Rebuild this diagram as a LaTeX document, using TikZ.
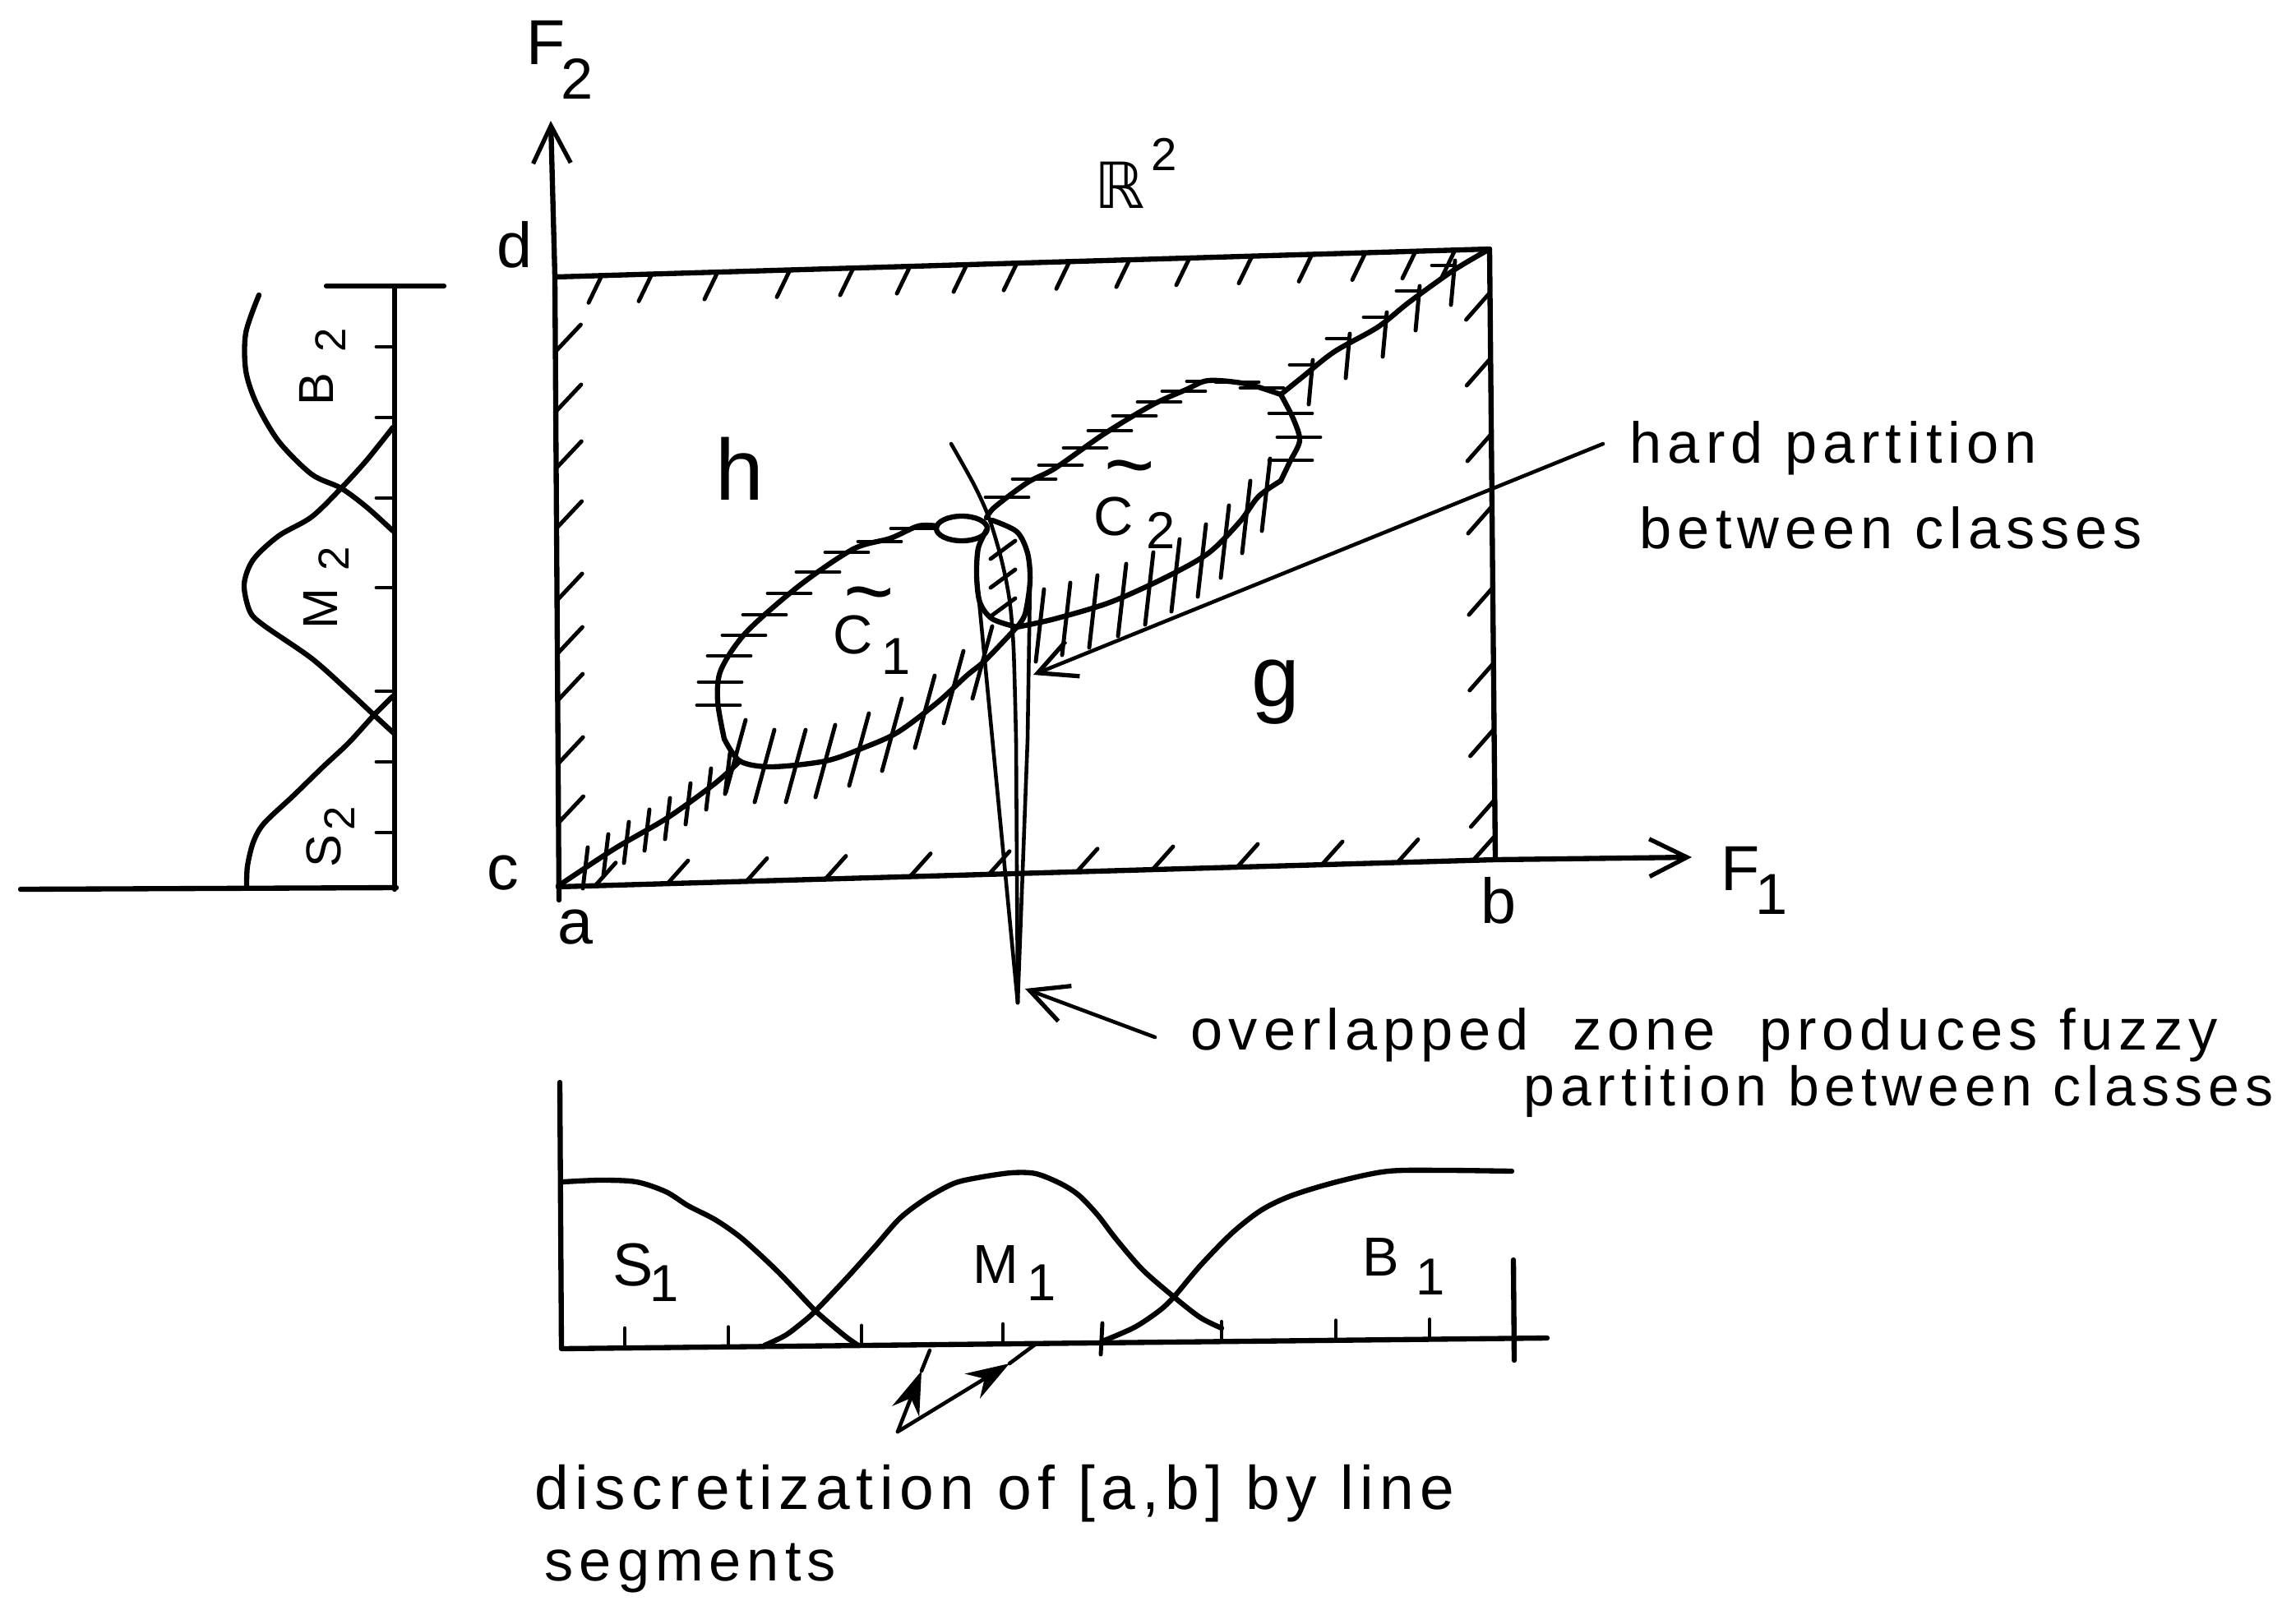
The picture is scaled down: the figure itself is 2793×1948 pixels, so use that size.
\documentclass[tikz,border=0pt]{standalone}
\usepackage{fontspec}
\setmainfont{Liberation Sans}
\newfontfamily\lettering{Liberation Sans}[LetterSpace=10]
\newfontfamily\dejavu{DejaVu Sans}
\usetikzlibrary{arrows.meta}
\newcommand\mytildeC[1]{\makebox[0pt][l]{\hspace{3.5pt}\raisebox{#1}{\fontsize{30}{30}\selectfont\char"007E}}C}
\begin{document}
\begin{tikzpicture}[x=0.01cm,y=-0.01cm,
  ln/.style={line width=1.8pt,line cap=round,line join=round},
  hat/.style={line width=1.4pt,line cap=round},
  thin/.style={line width=1.3pt,line cap=round,line join=round},
  txt/.style={font=\lettering\fontsize{20}{24}\selectfont,anchor=base west,inner sep=0pt},
  lab/.style={font=\fontsize{#1}{#1}\selectfont,inner sep=0pt},
  barb/.style={-{Straight Barb[length=13pt,width=13pt,line width=1.5pt]}},
  filltip/.style={-{Stealth[length=15pt,width=10pt]}}
]
\useasboundingbox (0,0) rectangle (2793,1948);

% ---------- main frame and axes ----------
\coordinate (A) at (679,1079);
\coordinate (Abot) at (680,1095);
\coordinate (D) at (675,337);
\coordinate (TR) at (1812,303);
\coordinate (B) at (1819,1046);
\coordinate (F2tip) at (670,147);
\coordinate (F1tip) at (2058,1043);

\draw[ln,barb] (Abot) -- (D) -- (F2tip);
\draw[ln] (D) -- (TR) -- (B);
\draw[ln,barb] (A) -- (B) -- (F1tip);

% edge hatches
\foreach \xx in {732,793,873,961,1038,1107,1176,1237,1301,1374,1447,1523,1596,1661,1722,1770}{
  \pgfmathsetmacro\yy{337-(\xx-675)/1137*34}
  \draw[hat] (\xx,\yy) -- ++(-16,33);
}
\foreach \yy in {428,501,570,643,731,796,853,930,1002}{
  \pgfmathsetmacro\xx{675+(\yy-337)/742*4}
  \draw[hat] (\xx,\yy) -- ++(31,-33);
}
\foreach \yy in {356,436,528,616,715,807,887,973}{
  \pgfmathsetmacro\xx{1812+(\yy-303)/743*7}
  \draw[hat] (\xx,\yy) -- ++(-29,33);
}
\foreach \xx in {724,812,908,1004,1107,1203,1310,1402,1505,1608,1700,1792}{
  \pgfmathsetmacro\yy{1079-(\xx-679)/1140*33}
  \draw[hat] (\xx,\yy) -- ++(25,-28);
}

% ---------- class regions and hard boundary ----------
% lower diagonal from a to C1
\draw[ln] plot[smooth] coordinates {(679,1078) (747,1033) (812,995) (870,953) (900,926)};
\foreach \px/\py in {712/1055,737/1039,762/1024,787/1009,812/995,837/977,862/959,885/940}
  \draw[hat] (\px,\py) ++(3,-24) -- ++(-6,50);
% C1 upper arc
\draw[ln] plot[smooth] coordinates {(1140,640) (1117,640) (1083,655) (1038,668) (973,712) (908,769) (877,815) (873,853) (881,899)};
\foreach \px/\py in {1110/643,1070/659,1030/672,995/696,960/722,930/748,905/773,887/798,876/830,874/858}
  \draw[hat] (\px,\py) ++(-26,0) -- ++(52,0);
% C1 lower arc
\draw[ln] plot[smooth] coordinates {(881,899) (900,926) (938,933) (1004,926) (1050,910) (1092,891) (1140,855) (1176,822) (1199,803) (1237,763)};
\foreach \px/\py in {895/920,930/932,968/932,1004/926,1045/912,1085/894,1125/866,1160/836,1195/806}
  \draw[hat] (\px,\py) ++(12,-44) -- ++(-24,88);
% C1 right end with small loop
\draw[ln] (1170,643) ellipse (31 and 15);
\draw[ln] plot[smooth] coordinates {(1200,645) (1190,667) (1188,700) (1192,733) (1207,753) (1237,763)};
% C2 upper arc
\draw[ln] plot[smooth] coordinates {(1200,630) (1210,617) (1250,587) (1283,570) (1343,528) (1401,493) (1443,474) (1470,463) (1516,467) (1558,480)};
\foreach \px/\py in {1225/605,1258/583,1290/566,1320/545,1350/524,1380/506,1410/489,1440/476,1470/464,1505/465,1535/472}
  \draw[hat] (\px,\py) ++(-26,0) -- ++(52,0);
% C2 right end
\draw[ln] plot[smooth] coordinates {(1558,480) (1573,509) (1581,536) (1569,562) (1558,585)};
\foreach \px/\py in {1570/503,1580/532,1570/560}
  \draw[hat] (\px,\py) ++(-26,0) -- ++(52,0);
% C2 lower arc
\draw[ln] plot[smooth] coordinates {(1558,585) (1531,604) (1508,635) (1470,673) (1417,703) (1350,733) (1283,753) (1237,763)};
\foreach \px/\py in {1540/598,1516/625,1490/655,1462/678,1430/696,1398/712,1365/726,1330/740,1297/749,1265/757}
  \draw[hat] (\px,\py) ++(5,-40) -- ++(-10,88);
% C2 left end
\draw[ln] plot[smooth] coordinates {(1207,633) (1237,647) (1250,673) (1253,707) (1247,747) (1237,763)};
% upper diagonal to the corner
\draw[ln] plot[smooth] coordinates {(1558,480) (1584,459) (1623,428) (1676,398) (1715,367) (1768,329) (1812,303)};
\foreach \px/\py in {1595/450,1640/418,1685/392,1725/360,1768/329}{
  \draw[hat] (\px,\py) ++(2,-12) -- ++(-5,54);
  \draw[hat] (\px,\py) ++(-26,-6) -- ++(24,0);
}
% overlap hatching
\foreach \yy in {680,715,750}{ \draw[hat] (1205,\yy) -- ++(30,-22); }

% fuzzy zone spike
\coordinate (Spk) at (1238,1220);
\draw[thin] plot[smooth] coordinates {(1157,540) (1185,590) (1203,630) (1218,680) (1228,730) (1233,790) (1236,900)} -- (Spk);
\draw[thin] (1188,700) -- (Spk);
\draw[thin] (1253,707) -- (1250,900) -- (Spk);

% ---------- left membership chart (F2) ----------
\coordinate (L0) at (25,1082);
\coordinate (L1) at (482,1080);
\coordinate (L2) at (480,348);
\draw[ln] (L0) -- (L1);
\draw[ln] (480,1082) -- (L2);
\draw[ln] (397,348) -- (540,348);
\foreach \yy in {422,508,606,715,841,927,1013}{ \draw[hat] (480,\yy) -- (458,\yy); }
\draw[ln] plot[smooth] coordinates {(315,359) (299,405) (299,451) (312,491) (339,537) (379,577) (415,594) (446,617) (478,646)};
\draw[ln] plot[smooth] coordinates {(478,520) (446,560) (415,594) (379,629) (339,652) (308,681) (297,711) (304,744) (321,761) (379,801) (424,841) (455,870) (480,893)};
\draw[ln] plot[smooth] coordinates {(478,847) (455,870) (424,904) (393,933) (357,968) (321,1002) (308,1025) (301,1054) (300,1079)};
\node[lab=17,rotate=90] (B2) at (385,474) {B};
\node[lab=15,rotate=90] (B2s) at (402,414) {2};
\node[lab=17,rotate=90] (M2) at (390,741) {M};
\node[lab=15,rotate=90] (M2s) at (406,680) {2};
\node[lab=17,rotate=90] (S2) at (394,1036) {S};
\node[lab=15,rotate=90] (S2s) at (413,996) {2};

% ---------- bottom membership chart (F1) ----------
\coordinate (Q0) at (681,1317);
\coordinate (Q1) at (683,1641);
\coordinate (Q2) at (1882,1628);
\draw[ln] (Q0) -- (Q1) -- (Q2);
\draw[ln] (1841,1533) -- (1842,1655);
\foreach \xx in {760,886,1048,1220,1486,1625,1739}{
  \pgfmathsetmacro\yy{1641-(\xx-683)/1199*13}
  \draw[hat] (\xx,\yy) -- ++(0,-24);
}
\draw[hat] (1339,1648) -- (1341,1610);
\draw[ln] plot[smooth] coordinates {(685,1438) (730,1436) (774,1438) (810,1450) (837,1467) (870,1484) (899,1504) (925,1527) (948,1549) (970,1572) (992,1595) (1015,1615) (1031,1628) (1044,1637)};
\draw[ln] plot[smooth] coordinates {(930,1637) (955,1625) (975,1610) (992,1595) (1030,1555) (1065,1516) (1095,1482) (1127,1458) (1160,1440) (1189,1433) (1230,1427) (1260,1428) (1290,1440) (1312,1454) (1335,1478) (1358,1508) (1390,1545) (1428,1578) (1460,1603) (1486,1616)};
\draw[ln] plot[smooth] coordinates {(1341,1632) (1380,1615) (1410,1595) (1428,1578) (1460,1540) (1499,1500) (1535,1472) (1573,1454) (1630,1437) (1689,1425) (1760,1424) (1839,1425)};
\node[lab=21] (S1) at (770,1539) {S};
\node[lab=18] (S1s) at (808,1562) {1};
\node[lab=19] (M1) at (1211,1538) {M};
\node[lab=18] (M1s) at (1267,1561) {1};
\node[lab=19] (B1) at (1680,1529) {B};
\node[lab=18] (B1s) at (1740,1554) {1};

% discretization arrows
\coordinate (J) at (1092,1742);
\coordinate (Jlm) at (1121,1668);
\coordinate (Jl) at (1131,1643);
\coordinate (Jrm) at (1228,1659);
\coordinate (Jr) at (1259,1636);
\draw[thin,filltip] (J) -- (Jlm);
\draw[thin] (Jlm) -- (Jl);
\draw[thin,filltip] (J) -- (Jrm);
\draw[thin] (Jrm) -- (Jr);

% ---------- labels in the plane ----------
\node[lab=22] (Fa) at (664,52) {F};
\node[lab=20] (Fas) at (702,96) {2};
\node[lab=22] (Fb) at (2117,1057) {F};
\node[lab=20] (Fbs) at (2155,1088) {1};
\node[lab=22] (ld) at (626,298) {d};
\node[lab=22] (lc) at (612,1062) {c};
\node[lab=22] (la) at (700,1128) {a};
\node[lab=22] (lb) at (1823,1096) {b};
\node[lab=22] (R2) at (1362,225) {{\dejavu ℝ}};
\node[lab=16] (R2s) at (1416,188) {2};
\node[lab=30] (hh) at (900,570) {h};
\node[lab=30] (gg) at (1552,842) {g};
\node[lab=19,anchor=base] (C1) at (1038,795) {\mytildeC{11.2pt}};
\node[lab=18] (C1s) at (1090,799) {1};
\node[lab=19,anchor=base] (C2) at (1355,651) {\mytildeC{14.2pt}};
\node[lab=18] (C2s) at (1412,645) {2};

% ---------- annotations ----------
\node[txt] (t1) at (1982,563) {hard partition};
\node[txt] (t2) at (1994,667) {between classes};
\node[txt] (t3) at (1448,1277) {overlapped\hspace{0.38em} zone\hspace{0.38em} produces fuzzy};
\node[txt,font=\lettering\fontsize{19.3}{24}\selectfont] (t4) at (1853,1345) {partition between classes};
\node[txt,font=\lettering\fontsize{21.3}{24}\selectfont] (t5) at (650,1836) {discretization of [a,b] by line};
\node[txt] (t6) at (662,1923) {segments};

\coordinate (HPs) at (1950,540);
\coordinate (HPe) at (1257,821);
\draw[thin,barb] (HPs) -- (HPe);
\coordinate (OVs) at (1405,1262);
\coordinate (OVe) at (1247,1203);
\draw[thin,barb] (OVs) -- (OVe);
\end{tikzpicture}
\end{document}
